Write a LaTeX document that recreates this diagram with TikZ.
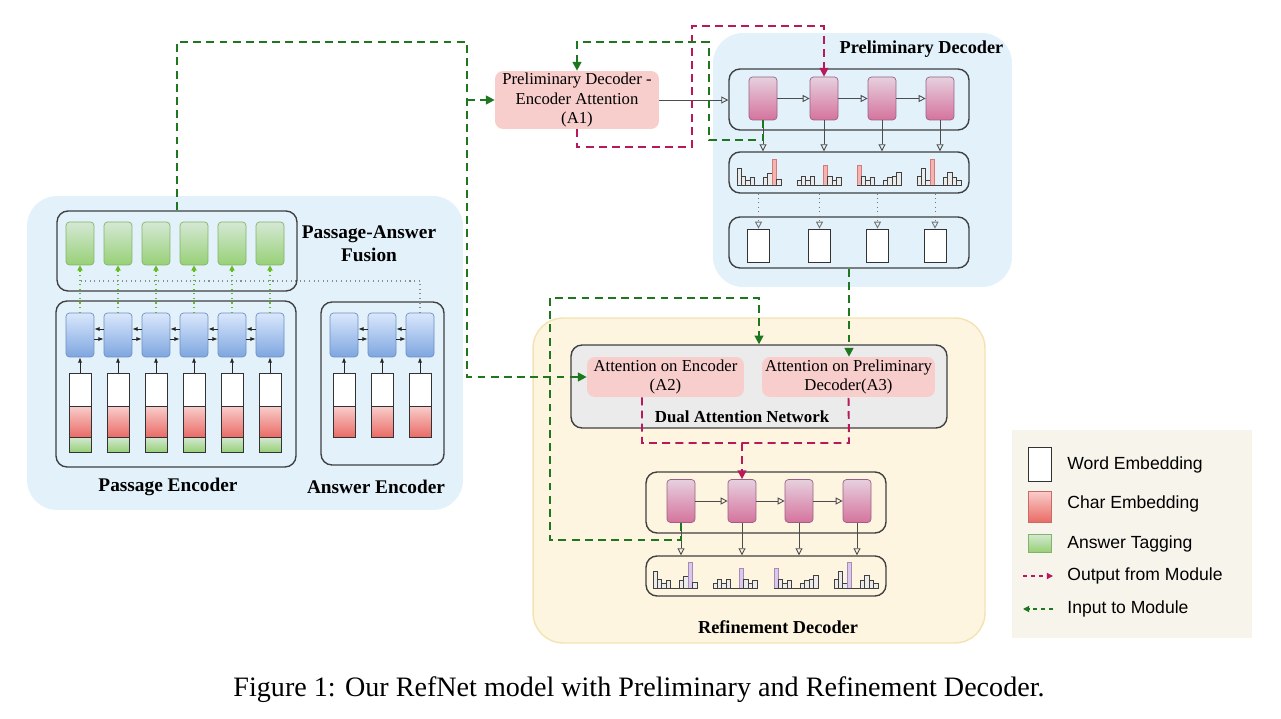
\documentclass[tikz,border=0pt]{standalone}
\usepackage{fontspec}
\setmainfont{Liberation Serif}
\setsansfont{Liberation Sans}
\usetikzlibrary{arrows.meta}

\definecolor{panelblue}{HTML}{E3F1FB}
\definecolor{panelyellow}{HTML}{FDF5E0}
\definecolor{panelyellowline}{HTML}{F3E3B3}
\definecolor{dualgray}{HTML}{EBEBEB}
\definecolor{attnpink}{HTML}{F8CECC}
\definecolor{enctop}{HTML}{DAE8FC}
\definecolor{encbot}{HTML}{7EA6E0}
\definecolor{encline}{HTML}{6C8EBF}
\definecolor{fusetop}{HTML}{D5E8D4}
\definecolor{fusebot}{HTML}{97D077}
\definecolor{fuseline}{HTML}{82B366}
\definecolor{dectop}{HTML}{E6D0DE}
\definecolor{decbot}{HTML}{D5739D}
\definecolor{decline}{HTML}{996185}
\definecolor{chartop}{HTML}{F8CECC}
\definecolor{charbot}{HTML}{EA6B66}
\definecolor{charline}{HTML}{C96A67}
\definecolor{outred}{HTML}{B7195B}
\definecolor{ingreen}{HTML}{1E771E}
\definecolor{fusedot}{HTML}{66BB22}
\definecolor{legendbg}{HTML}{F7F4EC}
\definecolor{pdhifill}{HTML}{F4B4B1}
\definecolor{pdhiline}{HTML}{D47B78}
\definecolor{rdhifill}{HTML}{DCC9EA}
\definecolor{rdhiline}{HTML}{A48BBE}

% one small histogram: x, baseline y, bar heights, highlighted bar, its style
\newcommand{\distbars}[5]{%
  \foreach \h [count=\k from 0] in {#3}{
    \ifnum\k=#4\relax
      \draw[#5] (#1+\k*4.4, #2) rectangle (#1+\k*4.4+4.4, #2-\h);
    \else
      \ifnum\h>0\relax
        \draw[bar] (#1+\k*4.4, #2) rectangle (#1+\k*4.4+4.4, #2-\h);
      \fi
    \fi
  }
  \draw[bar] (#1, #2) -- (#1+44, #2);
}

\begin{document}
\begin{tikzpicture}[x=0.02cm, y=-0.02cm,
    groupbox/.style={draw=black!75, line width=0.8pt, rounded corners=0.22cm, inner sep=0pt},
    enccell/.style={draw=encline, top color=enctop, bottom color=encbot, rounded corners=2pt,
      minimum width=0.56cm, minimum height=0.88cm, inner sep=0pt},
    fusecell/.style={enccell, draw=fuseline, top color=fusetop, bottom color=fusebot, minimum height=0.86cm},
    deccell/.style={enccell, draw=decline, top color=dectop, bottom color=decbot, minimum height=0.86cm},
    wordemb/.style={draw=black!80, fill=white, minimum width=0.44cm, minimum height=0.66cm, inner sep=0pt},
    charemb/.style={wordemb, top color=chartop, bottom color=charbot, minimum height=0.62cm},
    tagemb/.style={wordemb, top color=fusetop, bottom color=fusebot, minimum height=0.30cm},
    attn/.style={fill=attnpink, rounded corners=0.16cm, inner sep=0pt, align=center,
      font=\fontsize{9.5}{11.3}\selectfont},
    paneltitle/.style={font=\fontsize{11}{13}\selectfont\bfseries, align=center},
    legendtext/.style={anchor=west, inner sep=0pt, font=\sffamily\fontsize{10}{12}\selectfont},
    encarrow/.style={-{Latex[length=3pt,width=2.4pt]}, line width=0.5pt, black!85},
    decarrow/.style={-{Triangle[open,length=4pt,width=4pt]}, line width=0.5pt, black!70},
    dotarrow/.style={decarrow, dotted, black!55},
    fusearrow/.style={-{Triangle[length=3pt,width=3pt]}, line width=0.6pt, fusedot, dotted},
    graydot/.style={black!45, line width=0.6pt, dotted},
    outdash/.style={-{Triangle[length=5pt,width=5pt]}, draw=outred, line width=1.1pt,
      dash pattern=on 4.5pt off 3pt},
    indash/.style={outdash, draw=ingreen},
    bar/.style={draw=black!75, fill=black!8, line width=0.4pt},
    pdhi/.style={draw=pdhiline, fill=pdhifill, line width=0.4pt},
    rdhi/.style={draw=rdhiline, fill=rdhifill, line width=0.4pt}]

  \useasboundingbox (0,0) rectangle (1281,719);

  % panels
  \node[fill=panelblue, rounded corners=0.6cm, minimum width=8.72cm, minimum height=6.28cm] (encpanel) at (245,353) {};
  \node[fill=panelblue, rounded corners=0.6cm, minimum width=5.98cm, minimum height=5.08cm] (pdpanel) at (862.5,160) {};
  \node[fill=panelyellow, draw=panelyellowline, line width=0.8pt, rounded corners=0.6cm,
    minimum width=9.04cm, minimum height=6.5cm] (rdpanel) at (759,480.5) {};
  \node[fill=legendbg, minimum width=4.8cm, minimum height=4.16cm] (legend) at (1132,534) {};

  % passage and answer encoders
  \node[groupbox, minimum width=4.8cm, minimum height=1.6cm] (fusion) at (177,251) {};
  \node[groupbox, minimum width=4.8cm, minimum height=3.32cm] (penc) at (176,384) {};
  \node[groupbox, minimum width=2.46cm, minimum height=3.26cm] (aenc) at (382.5,383.5) {};

  \foreach \cx [count=\i] in {80,118,156,194,232,270}{
      \node[fusecell] (fu\i) at (\cx,243.5) {};
      \node[enccell] (pc\i) at (\cx,335) {};
      \node[wordemb] (pw\i) at (\cx,389.5) {};
      \node[charemb] (pr\i) at (\cx,421.5) {};
      \node[tagemb] (pt\i) at (\cx,444.5) {};
      \draw[encarrow] (pw\i.north) -- (pc\i.south);
      \draw[fusearrow] (pc\i.north) -- (fu\i.south);
    }
  \foreach \cx [count=\i] in {344,382,420}{
      \node[enccell] (ac\i) at (\cx,335) {};
      \node[wordemb] (aw\i) at (\cx,389.5) {};
      \node[charemb] (ar\i) at (\cx,421.5) {};
      \draw[encarrow] (aw\i.north) -- (ac\i.south);
    }
  \foreach \i/\j in {1/2,2/3,3/4,4/5,5/6}{
      \draw[encarrow] ([yshift=0.12cm]pc\j.west) -- ([yshift=0.12cm]pc\i.east);
      \draw[encarrow] ([yshift=-0.08cm]pc\i.east) -- ([yshift=-0.08cm]pc\j.west);
    }
  \foreach \i/\j in {1/2,2/3}{
      \draw[encarrow] ([yshift=0.12cm]ac\j.west) -- ([yshift=0.12cm]ac\i.east);
      \draw[encarrow] ([yshift=-0.08cm]ac\i.east) -- ([yshift=-0.08cm]ac\j.west);
    }
  \coordinate (tap) at (80,281);
  \draw[graydot] (ac3.north) |- (tap);

  \node[paneltitle] (fusiontxt) at (369,244) {Passage-Answer\\Fusion};
  \node[paneltitle] (penctxt) at (168,487) {Passage Encoder};
  \node[paneltitle] (aenctxt) at (376,487) {Answer Encoder};

  % preliminary decoder
  \node[attn, minimum width=3.28cm, minimum height=1.16cm] (a1) at (577,100)
    {Preliminary Decoder -\\Encoder Attention\\(A1)};
  \node[groupbox, minimum width=4.8cm, minimum height=1.22cm] (pdbox) at (849,99.5) {};
  \node[groupbox, minimum width=4.8cm, minimum height=0.82cm] (pddist) at (849,172.5) {};
  \node[groupbox, minimum width=4.8cm, minimum height=1.02cm] (pdout) at (849,242.5) {};
  \node[paneltitle, font=\fontsize{10.4}{12}\selectfont\bfseries] (pdtxt) at (921.5,49) {Preliminary Decoder};

  \foreach \cx [count=\i] in {763,824,882,940}{
      \node[deccell] (pd\i) at (\cx,98.5) {};
      \draw[decarrow] (pd\i.south) -- (pd\i.south |- pddist.north);
    }
  \foreach \cx [count=\i] in {758.5,819.5,877.5,935}{
      \node[wordemb] (po\i) at (\cx,245.5) {};
      \draw[dotarrow] (po\i.north |- pddist.south) -- (po\i.north);
    }
  \foreach \i/\j in {1/2,2/3,3/4}{
      \draw[decarrow] (pd\i) -- (pd\j);
    }
  \draw[decarrow] (a1.east) -- (a1.east -| pdbox.west);

  \distbars{737}{185}{17,9,5,8,0,0,8,12,26,6}{8}{pdhi}
  \distbars{797}{185}{5,9,5,9,0,0,20,9,5,8}{6}{pdhi}
  \distbars{857}{185}{20,9,5,8,0,0,5,8,9,13}{0}{pdhi}
  \distbars{917}{185}{9,17,5,26,0,0,8,13,8,5}{3}{pdhi}

  % refinement decoder
  \node[groupbox, fill=dualgray, minimum width=7.52cm, minimum height=1.66cm] (dual) at (759,386.5) {};
  \node[attn, minimum width=3.14cm, minimum height=0.8cm] (a2) at (665.5,377) {Attention on Encoder\\(A2)};
  \node[attn, minimum width=3.46cm, minimum height=0.8cm] (a3) at (848.5,377) {Attention on Preliminary\\Decoder(A3)};
  \node[paneltitle, font=\fontsize{9.6}{11}\selectfont\bfseries] (dualtxt) at (742,417) {Dual Attention Network};
  \node[groupbox, minimum width=4.8cm, minimum height=1.22cm] (rdbox) at (766,502.5) {};
  \node[groupbox, minimum width=4.8cm, minimum height=0.8cm] (rddist) at (766,576) {};
  \node[paneltitle, font=\fontsize{10.4}{12}\selectfont\bfseries] (rdtxt) at (778,627) {Refinement Decoder};

  \foreach \cx [count=\i] in {681,742,799,857}{
      \node[deccell] (rd\i) at (\cx,501) {};
      \draw[decarrow] (rd\i.south) -- (rd\i.south |- rddist.north);
    }
  \foreach \i/\j in {1/2,2/3,3/4}{
      \draw[decarrow] (rd\i) -- (rd\j);
    }

  \distbars{653}{588}{17,9,5,8,0,0,8,12,26,6}{8}{rdhi}
  \distbars{713}{588}{5,9,5,9,0,0,20,9,5,8}{6}{rdhi}
  \distbars{774}{588}{20,9,5,8,0,0,5,8,9,13}{0}{rdhi}
  \distbars{834}{588}{9,17,5,26,0,0,8,13,8,5}{3}{rdhi}

  % module outputs
  \coordinate (r1) at (692,147);
  \coordinate (r2) at (692,26);
  \draw[outdash] (a1.south) |- (r1) -- (r2) -| (pd2.north);
  \coordinate (m1) at (642,443);
  \coordinate (m2) at (849,443);
  \coordinate (m0) at (742,443);
  \draw[outdash, -] (m1 |- a2.south) -- (m1) -- (m2) -- (a3.south);
  \draw[outdash] (m0) -- (rd2.north);

  % module inputs
  \coordinate (tl) at (467,42);
  \coordinate (bl) at (467,377);
  \draw[indash] (fusion.north) |- (tl) -- (bl) -- (a2.west);
  \draw[indash] (tl |- a1.west) -- (a1.west);
  \coordinate (g1) at (709,140);
  \coordinate (g2) at (709,42);
  \draw[indash] (pd1.south) |- (g1) -- (g2) -| (a1.north);
  \draw[indash] (pdout.south) -- (pdout.south |- a3.north);
  \coordinate (q1) at (550,540);
  \coordinate (q2) at (550,298);
  \draw[indash] (rd1.south) |- (q1) -- (q2) -| (dual.north);

  % legend
  \node[wordemb, minimum width=0.46cm, minimum height=0.68cm] (lgword) at (1039.5,464) {};
  \node[charemb, draw=charline, minimum width=0.46cm] (lgchar) at (1039.5,506.5) {};
  \node[tagemb, draw=fuseline, minimum width=0.46cm, minimum height=0.36cm] (lgtag) at (1039.5,543) {};
  \coordinate (lgoa) at (1023,576);
  \coordinate (lgob) at (1053,576);
  \coordinate (lgia) at (1023,609);
  \coordinate (lgib) at (1053,609);
  \draw[outdash, line width=0.7pt, dash pattern=on 2.5pt off 2pt, -{Triangle[length=3.5pt,width=3.5pt]}] (lgoa) -- (lgob);
  \draw[indash, line width=0.7pt, dash pattern=on 2.5pt off 2pt, -{Triangle[length=3.5pt,width=3.5pt]}] (lgib) -- (lgia);
  \node[legendtext] (lgwordtxt) at (1067,465) {Word Embedding};
  \node[legendtext] (lgchartxt) at (1067,504) {Char Embedding};
  \node[legendtext] (lgtagtxt) at (1067,544) {Answer Tagging};
  \node[legendtext] (lgouttxt) at (1067,576) {Output from Module};
  \node[legendtext] (lgintxt) at (1067,609) {Input to Module};

  \node[font=\fontsize{16}{19}\selectfont] (caption) at (639,690)
    {Figure 1: Our RefNet model with Preliminary and Refinement Decoder.};
\end{tikzpicture}
\end{document}
